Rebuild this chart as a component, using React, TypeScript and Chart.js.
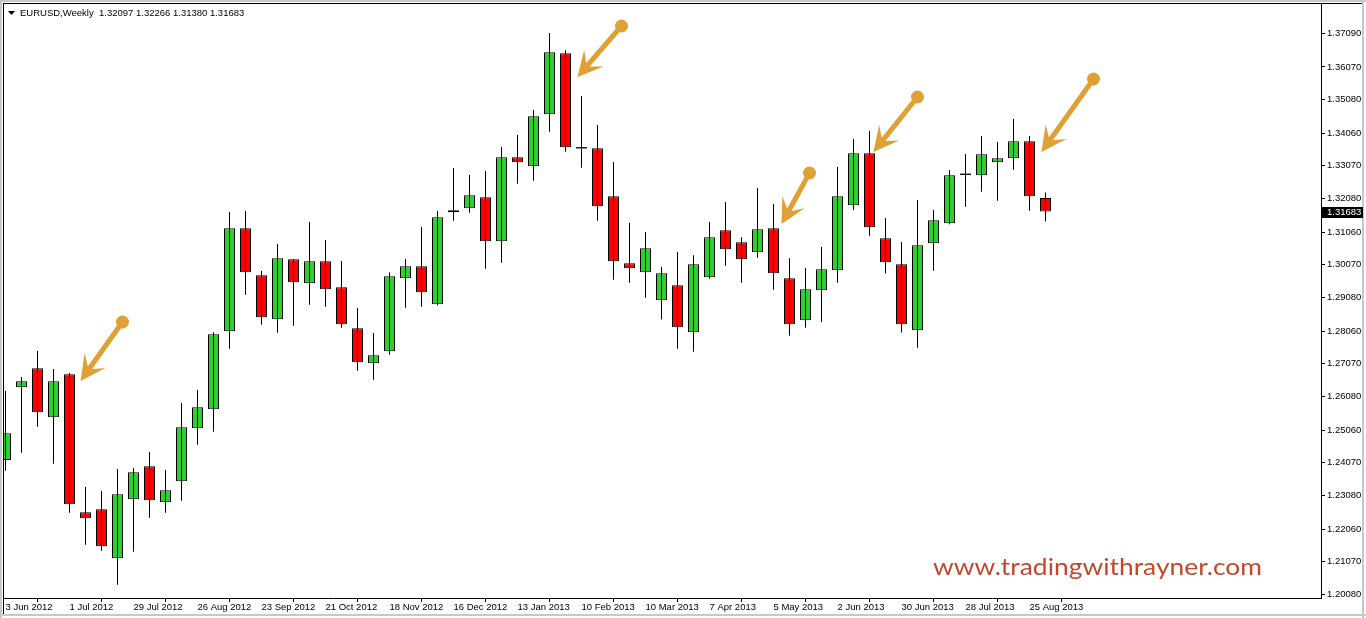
import React, { useEffect, useRef } from "react";
import { Chart, registerables } from "chart.js";

Chart.register(...registerables);

// Weekly EURUSD candles, 3 Jun 2012 (index 0) .. 1 Sep 2013 (index 65)
const opens = [
  1.24152, 1.26357, 1.26933, 1.25447, 1.26751, 1.22567, 1.22658, 1.21172, 1.22961, 1.23961,
  1.22870, 1.23507, 1.25114, 1.25690, 1.28055, 1.31178, 1.29753, 1.28418, 1.30238, 1.29510,
  1.30177, 1.29389, 1.28146, 1.27084, 1.27448, 1.29662, 1.30025, 1.28873, 1.31663, 1.31784,
  1.32118, 1.30783, 1.33330, 1.33057, 1.34634, 1.36484, 1.33618, 1.33603, 1.32148, 1.30116,
  1.29844, 1.28995, 1.29449, 1.28024, 1.29692, 1.31117, 1.30753, 1.30450, 1.31178, 1.29662,
  1.28388, 1.29298, 1.29904, 1.31875, 1.33452, 1.30874, 1.30086, 1.28085, 1.30723, 1.31329,
  1.32815, 1.32785, 1.33179, 1.33300, 1.33815, 1.32097,
];
const highs = [
  1.26245, 1.26669, 1.27457, 1.26912, 1.26790, 1.23334, 1.23213, 1.23880, 1.23910, 1.24395,
  1.23849, 1.25881, 1.26275, 1.28024, 1.31672, 1.31702, 1.29883, 1.30702, 1.30250, 1.31369,
  1.30823, 1.30186, 1.28761, 1.28003, 1.29844, 1.30247, 1.31217, 1.31702, 1.33006, 1.32794,
  1.32915, 1.33643, 1.34006, 1.34764, 1.37099, 1.36575, 1.35189, 1.34310, 1.33188, 1.31347,
  1.31065, 1.30004, 1.30459, 1.30359, 1.31369, 1.31975, 1.30905, 1.32399, 1.31914, 1.30268,
  1.29974, 1.30611, 1.33036, 1.33885, 1.34128, 1.31490, 1.30762, 1.32036, 1.31732, 1.32945,
  1.33430, 1.33976, 1.33794, 1.34492, 1.33976, 1.32266,
];
const lows = [
  1.23828, 1.24374, 1.25162, 1.24040, 1.22555, 1.21584, 1.21402, 1.20372, 1.21372, 1.22403,
  1.22555, 1.22918, 1.24616, 1.25010, 1.27527, 1.29164, 1.28255, 1.28012, 1.28224, 1.28861,
  1.28801, 1.28164, 1.26860, 1.26587, 1.27345, 1.28770, 1.28801, 1.28843, 1.31408, 1.31651,
  1.29953, 1.30135, 1.32530, 1.32621, 1.34106, 1.33500, 1.33015, 1.31408, 1.29619, 1.29528,
  1.29073, 1.28412, 1.27527, 1.27436, 1.29649, 1.30044, 1.29528, 1.30286, 1.29316, 1.27921,
  1.28164, 1.28337, 1.29528, 1.31732, 1.30953, 1.29807, 1.28018, 1.27557, 1.29892, 1.31300,
  1.31832, 1.32287, 1.32014, 1.32954, 1.31711, 1.31380,
];
const closes = [
  1.24962, 1.26539, 1.25599, 1.26539, 1.22809, 1.22385, 1.21536, 1.23112, 1.23780, 1.22931,
  1.23234, 1.25144, 1.25750, 1.27964, 1.31178, 1.29844, 1.28479, 1.30268, 1.29540, 1.30177,
  1.29328, 1.28267, 1.27115, 1.27327, 1.29722, 1.30025, 1.29237, 1.31511, 1.31723, 1.32178,
  1.30783, 1.33330, 1.33179, 1.34573, 1.36514, 1.33634, 1.33618, 1.31845, 1.30177, 1.29965,
  1.30571, 1.29813, 1.28176, 1.30086, 1.30905, 1.30541, 1.30238, 1.31147, 1.29813, 1.28267,
  1.29328, 1.29934, 1.32148, 1.33452, 1.31208, 1.30147, 1.28267, 1.30662, 1.31420, 1.32785,
  1.32815, 1.33421, 1.33300, 1.33815, 1.32148, 1.31683,
];

// x-axis date labels, one every 4 weeks starting at candle 0
const xTickLabels = [
  "3 Jun 2012", "1 Jul 2012", "29 Jul 2012", "26 Aug 2012", "23 Sep 2012", "21 Oct 2012",
  "18 Nov 2012", "16 Dec 2012", "13 Jan 2013", "10 Feb 2013", "10 Mar 2013", "7 Apr 2013",
  "5 May 2013", "2 Jun 2013", "30 Jun 2013", "28 Jul 2013", "25 Aug 2013",
];
const xTickIndexes = [0, 4, 8, 12, 16, 20, 24, 28, 32, 36, 40, 44, 48, 52, 56, 60, 64];

// price axis labels
const yTickValues = [
  1.3709, 1.3607, 1.3508, 1.3406, 1.3307, 1.3208, 1.3106, 1.3007, 1.2908, 1.2806,
  1.2707, 1.2608, 1.2506, 1.2407, 1.2308, 1.2206, 1.2107, 1.2008,
];

// annotation arrows (data coordinates: candle index, price)
const arrowTipIdx = [4.69, 35.75, 48.5, 54.25, 64.75];
const arrowTipPrice = [1.26548, 1.35765, 1.31308, 1.33491, 1.33491];
const arrowTailIdx = [7.31, 38.5, 50.25, 57.0, 68.0];
const arrowTailPrice = [1.28337, 1.37311, 1.32854, 1.35159, 1.35704];

const headerSymbol = "EURUSD,Weekly";
const watermarkText = "www.tradingwithrayner.com";

const GREEN = "#32CD32";
const RED = "#FF0000";
const ARROW = "#E0A134";
const FONT = "'Liberation Sans', Arial, sans-serif";

export default function App() {
  const ref = useRef<HTMLCanvasElement | null>(null);

  useEffect(() => {
    const canvas = ref.current;
    if (!canvas) return;
    const n = opens.length;
    const lastClose = closes[n - 1];
    const isDoji = (i: number) => Math.abs(opens[i] - closes[i]) < 0.00005;

    const wickData = opens.map((_, i) => ({ x: i, y: [lows[i], highs[i]] }));
    const bodyData = opens.map((o, i) => {
      const c = closes[i];
      if (isDoji(i)) return { x: i, y: [o - 0.0002, o + 0.0002] };
      return { x: i, y: [Math.min(o, c), Math.max(o, c)] };
    });
    const bodyColors = opens.map((o, i) => {
      if (isDoji(i)) return "#000000";
      return closes[i] > o ? GREEN : RED;
    });
    const bodyBorders = opens.map((_, i) => (isDoji(i) ? 0 : 1));

    const framePlugin = {
      id: "frame",
      beforeDraw(chart: any) {
        const ctx = chart.ctx;
        ctx.save();
        ctx.fillStyle = "#ffffff";
        ctx.fillRect(0, 0, chart.width, chart.height);
        ctx.fillStyle = "#c8c8c8";
        ctx.fillRect(0, 0, chart.width, 2);
        ctx.fillRect(0, 0, 2, chart.height);
        ctx.fillRect(1362, 0, 2, chart.height);
        ctx.fillRect(0, 614, chart.width, 2);
        ctx.fillStyle = "#000000";
        ctx.fillRect(3, 3, 1359, 1);
        ctx.fillRect(3, 3, 1, 611);
        ctx.restore();
      },
      afterDraw(chart: any) {
        const ctx = chart.ctx;
        const xs = chart.scales.x;
        const ys = chart.scales.y;
        const area = chart.chartArea;
        ctx.save();
        // arrows
        for (let k = 0; k < arrowTipIdx.length; k++) {
          const tx = xs.getPixelForValue(arrowTipIdx[k]);
          const ty = ys.getPixelForValue(arrowTipPrice[k]);
          const sx = xs.getPixelForValue(arrowTailIdx[k]);
          const sy = ys.getPixelForValue(arrowTailPrice[k]);
          const dx = sx - tx, dy = sy - ty;
          const len = Math.hypot(dx, dy);
          const ux = dx / len, uy = dy / len;
          ctx.strokeStyle = ARROW;
          ctx.fillStyle = ARROW;
          ctx.lineWidth = 5;
          ctx.lineCap = "round";
          ctx.beginPath();
          ctx.moveTo(tx + ux * 12, ty + uy * 12);
          ctx.lineTo(sx, sy);
          ctx.stroke();
          ctx.beginPath();
          ctx.arc(sx, sy, 6.5, 0, Math.PI * 2);
          ctx.fill();
          const ang = (27 * Math.PI) / 180;
          const L = 28;
          const r = (a: number) => [ux * Math.cos(a) - uy * Math.sin(a), ux * Math.sin(a) + uy * Math.cos(a)];
          const [b1x, b1y] = r(ang);
          const [b2x, b2y] = r(-ang);
          ctx.beginPath();
          ctx.moveTo(tx, ty);
          ctx.lineTo(tx + b1x * L, ty + b1y * L);
          ctx.lineTo(tx + ux * 14, ty + uy * 14);
          ctx.lineTo(tx + b2x * L, ty + b2y * L);
          ctx.closePath();
          ctx.fill();
        }
        // watermark
        ctx.font = `24px Lato, sans-serif`;
        const w = ctx.measureText(watermarkText).width;
        const targetW = 329;
        ctx.fillStyle = "#C4472C";
        ctx.textBaseline = "alphabetic";
        ctx.textAlign = "left";
        ctx.save();
        ctx.translate(area.right - 59 - targetW, area.bottom - 23);
        ctx.scale(targetW / w, 1);
        ctx.fillText(watermarkText, 0, 0);
        ctx.restore();
        // header
        ctx.fillStyle = "#000000";
        ctx.beginPath();
        ctx.moveTo(8, 11);
        ctx.lineTo(15, 11);
        ctx.lineTo(11.5, 15);
        ctx.closePath();
        ctx.fill();
        ctx.font = `9.5px ${FONT}`;
        ctx.textBaseline = "middle";
        const ohlc = [opens[n - 1], highs[n - 1], lows[n - 1], closes[n - 1]].map((v) => v.toFixed(5)).join(" ");
        ctx.fillText(`${headerSymbol}  ${ohlc}`, 20, 13);
        // current price box
        const py = Math.round(ys.getPixelForValue(lastClose));
        ctx.fillStyle = "#000000";
        ctx.fillRect(area.right + 1, py - 5, 41, 11);
        ctx.fillStyle = "#ffffff";
        ctx.fillText(lastClose.toFixed(5), area.right + 6, py + 0.5);
        ctx.restore();
      },
    };

    const chart = new Chart(canvas, {
      type: "bar",
      data: {
        datasets: [
          {
            label: "wick",
            data: wickData as any,
            backgroundColor: "#000000",
            borderWidth: 0,
            barThickness: 1,
            grouped: false,
            inflateAmount: 0,
            clip: 0,
          } as any,
          {
            label: "body",
            data: bodyData as any,
            backgroundColor: bodyColors,
            borderColor: "#000000",
            borderWidth: bodyBorders,
            borderSkipped: false,
            barThickness: 11,
            grouped: false,
            inflateAmount: 0,
            clip: 0,
          } as any,
        ],
      },
      options: {
        responsive: false,
        animation: false,
        layout: { padding: { left: 4, top: 4, right: 0, bottom: 0 } },
        plugins: { legend: { display: false }, tooltip: { enabled: false }, title: { display: false } },
        scales: {
          x: {
            type: "linear",
            min: -0.09375,
            max: 82.21875,
            offset: false,
            grid: {
              display: true,
              drawOnChartArea: false,
              drawTicks: true,
              tickLength: 4,
              color: "#000000",
            },
            border: { display: true, color: "#000000", width: 1 },
            afterBuildTicks: (scale: any) => {
              scale.ticks = xTickIndexes.map((v) => ({ value: v }));
            },
            afterFit: (scale: any) => {
              scale.height = 20;
              scale.paddingLeft = 0;
              scale.paddingRight = 0;
              scale.paddingTop = 0;
              scale.paddingBottom = 0;
            },
            ticks: {
              autoSkip: false,
              maxRotation: 0,
              minRotation: 0,
              align: "start",
              padding: 0,
              color: "#000000",
              font: { family: FONT, size: 9.5 },
              callback: (v: any) => {
                const k = xTickIndexes.indexOf(Number(v));
                return k >= 0 ? xTickLabels[k] : "";
              },
            },
          },
          y: {
            type: "linear",
            position: "right",
            min: 1.19968,
            max: 1.37978,
            grid: {
              display: true,
              drawOnChartArea: false,
              drawTicks: true,
              tickLength: 4,
              color: "#000000",
            },
            border: { display: true, color: "#000000", width: 1 },
            afterBuildTicks: (scale: any) => {
              scale.ticks = yTickValues.map((v) => ({ value: v }));
            },
            afterFit: (scale: any) => {
              scale.width = 45;
              scale.paddingLeft = 0;
              scale.paddingRight = 0;
              scale.paddingTop = 0;
              scale.paddingBottom = 0;
            },
            ticks: {
              autoSkip: false,
              padding: 2,
              color: "#000000",
              font: { family: FONT, size: 9.5 },
              callback: (v: any) => Number(v).toFixed(5),
            },
          },
        },
      },
      plugins: [framePlugin],
    });

    return () => chart.destroy();
  }, []);

  return (
    <div style={{ position: "fixed", left: 0, top: 0, width: 1366, height: 618, background: "#fff" }}>
      <canvas ref={ref} width={1366} height={618} style={{ display: "block", width: 1366, height: 618 }} />
    </div>
  );
}
